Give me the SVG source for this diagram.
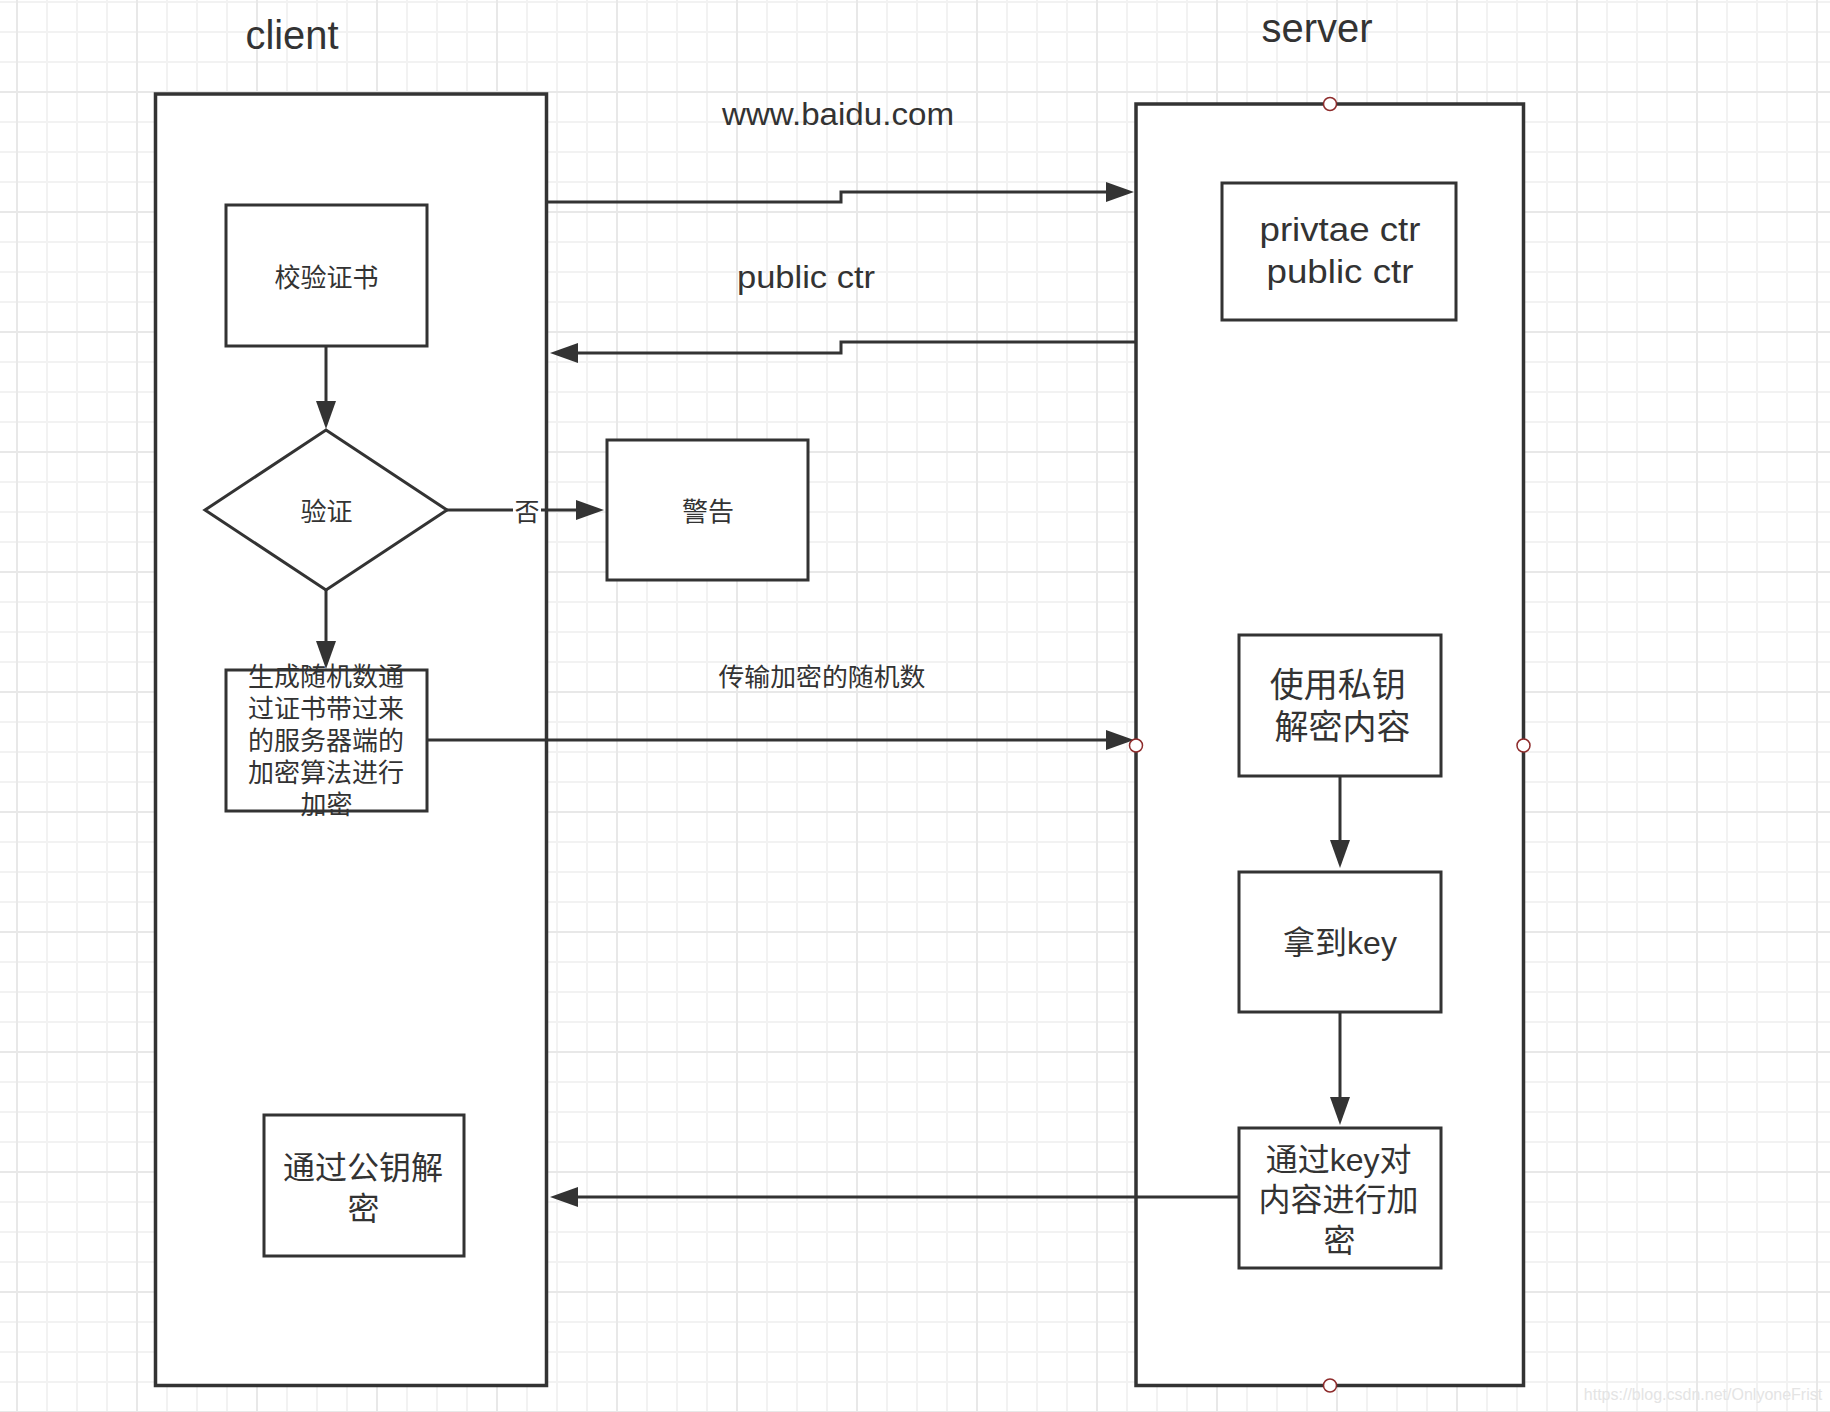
<svg xmlns="http://www.w3.org/2000/svg" width="1830" height="1412" viewBox="0 0 1830 1412">
<style>
.box{fill:#fff;stroke:#333;stroke-width:3}
.lane{fill:#fff;stroke:#333;stroke-width:3.5}
.edge{fill:none;stroke:#333;stroke-width:3;stroke-linejoin:miter}
.t{font-family:"Liberation Sans","Noto Sans CJK SC",sans-serif;fill:#333;text-anchor:middle}
.pt{fill:#fff;stroke:#8e2b2b;stroke-width:1.5}
</style>
<defs>
<pattern id="minor" x="16" y="1" width="30" height="30" patternUnits="userSpaceOnUse">
<rect x="0" y="0" width="2" height="30" fill="#f2f2f2"/>
<rect x="0" y="0" width="30" height="2" fill="#f2f2f2"/>
</pattern>
<pattern id="major" x="16" y="91" width="120" height="120" patternUnits="userSpaceOnUse">
<rect x="0" y="0" width="2" height="120" fill="#e8e8e8"/>
<rect x="0" y="0" width="120" height="2" fill="#e8e8e8"/>
</pattern>
<marker id="arr" viewBox="0 0 28 20" markerWidth="28" markerHeight="20" refX="2" refY="10" orient="auto" markerUnits="userSpaceOnUse">
<path d="M0,0 L28,10 L0,20 z" fill="#333"/>
</marker>
</defs>

<rect width="1830" height="1412" fill="#fff"/>
<rect width="1830" height="1412" fill="url(#minor)"/>
<rect width="1830" height="1412" fill="url(#major)"/>

<g id="client-lane">
<rect class="lane" x="155.5" y="94" width="391" height="1291.5"/>
<text class="t" x="292" y="49" font-size="40" textLength="93" lengthAdjust="spacingAndGlyphs">client</text>
</g>

<g id="server-lane">
<rect class="lane" x="1136" y="104" width="387.5" height="1281.5"/>
<text class="t" x="1317" y="41.5" font-size="40" textLength="111" lengthAdjust="spacingAndGlyphs">server</text>
</g>

<g id="connectors">
<path class="edge" d="M547,202 H841 V192 H1108" marker-end="url(#arr)"/>
<text class="t" x="838" y="125" font-size="31" textLength="232" lengthAdjust="spacingAndGlyphs">www.baidu.com</text>
<path class="edge" d="M1136,342 H841 V353 H576" marker-end="url(#arr)"/>
<text class="t" x="806" y="288" font-size="32" textLength="138" lengthAdjust="spacingAndGlyphs">public ctr</text>
<path class="edge" d="M326,346 V403" marker-end="url(#arr)"/>
<path class="edge" d="M447,510 H578" marker-end="url(#arr)"/>
<rect x="513" y="497" width="28" height="28" fill="#fff"/>
<text class="t" x="527" y="520.5" font-size="25">否</text>
<path class="edge" d="M326,590 V643" marker-end="url(#arr)"/>
<path class="edge" d="M427,740 H1108" marker-end="url(#arr)"/>
<text class="t" x="822" y="686" font-size="25" textLength="207" lengthAdjust="spacingAndGlyphs">传输加密的随机数</text>
<path class="edge" d="M1340,776 V842" marker-end="url(#arr)"/>
<path class="edge" d="M1340,1012 V1099" marker-end="url(#arr)"/>
<path class="edge" d="M1239,1197 H576" marker-end="url(#arr)"/>
</g>

<g id="node-verify-cert">
<rect class="box" x="226" y="205" width="201" height="141"/>
<text class="t" x="326.5" y="287.3" font-size="26">校验证书</text>
</g>

<g id="node-check">
<polygon class="box" points="326,430 447,510 326,590 205,510"/>
<text class="t" x="326.5" y="520.5" font-size="26">验证</text>
</g>

<g id="node-warn">
<rect class="box" x="607" y="440" width="201" height="140"/>
<text class="t" x="708" y="521" font-size="26">警告</text>
</g>

<g id="node-gen-random">
<rect class="box" x="226" y="670" width="201" height="141"/>
<text class="t" font-size="26">
<tspan x="329.5" y="686.3">生成随机数通</tspan>
<tspan x="329.5" y="718.3">过证书带过来</tspan>
<tspan x="329.5" y="750.3">的服务器端的</tspan>
<tspan x="329.5" y="782.3">加密算法进行</tspan>
<tspan x="326.5" y="814.3">加密</tspan>
</text>
</g>

<g id="node-public-decrypt">
<rect class="box" x="264" y="1115" width="200" height="141"/>
<text class="t" font-size="32">
<tspan x="367.5" y="1178.5">通过公钥解</tspan>
<tspan x="363.5" y="1219.5">密</tspan>
</text>
</g>

<g id="node-keys">
<rect class="box" x="1222" y="183" width="234" height="137"/>
<text class="t" x="1340" y="241" font-size="33" textLength="161" lengthAdjust="spacingAndGlyphs">privtae ctr</text>
<text class="t" x="1340" y="283" font-size="33" textLength="147" lengthAdjust="spacingAndGlyphs">public ctr</text>
</g>

<g id="node-private-decrypt">
<rect class="box" x="1239" y="635" width="202" height="141"/>
<text class="t" font-size="34">
<tspan x="1342.5" y="697">使用私钥</tspan>
<tspan x="1342.5" y="739">解密内容</tspan>
</text>
</g>

<g id="node-get-key">
<rect class="box" x="1239" y="872" width="202" height="140"/>
<text class="t" x="1340" y="953.5" font-size="32">拿到key</text>
</g>

<g id="node-encrypt">
<rect class="box" x="1239" y="1128" width="202" height="140"/>
<text class="t" font-size="32">
<tspan x="1343" y="1171">通过key对</tspan>
<tspan x="1343" y="1211">内容进行加</tspan>
<tspan x="1339.5" y="1252">密</tspan>
</text>
</g>

<g id="server-ports">
<circle class="pt" cx="1330" cy="104" r="6.5"/>
<circle class="pt" cx="1136" cy="745.5" r="6.5"/>
<circle class="pt" cx="1523.5" cy="745.5" r="6.5"/>
<circle class="pt" cx="1330" cy="1385.5" r="6.5"/>
</g>

<text x="1703" y="1400" font-size="16" font-family="'Liberation Sans',Arial,sans-serif" fill="#e4e4e4" text-anchor="middle">https://blog.csdn.net/OnlyoneFrist</text>
</svg>
